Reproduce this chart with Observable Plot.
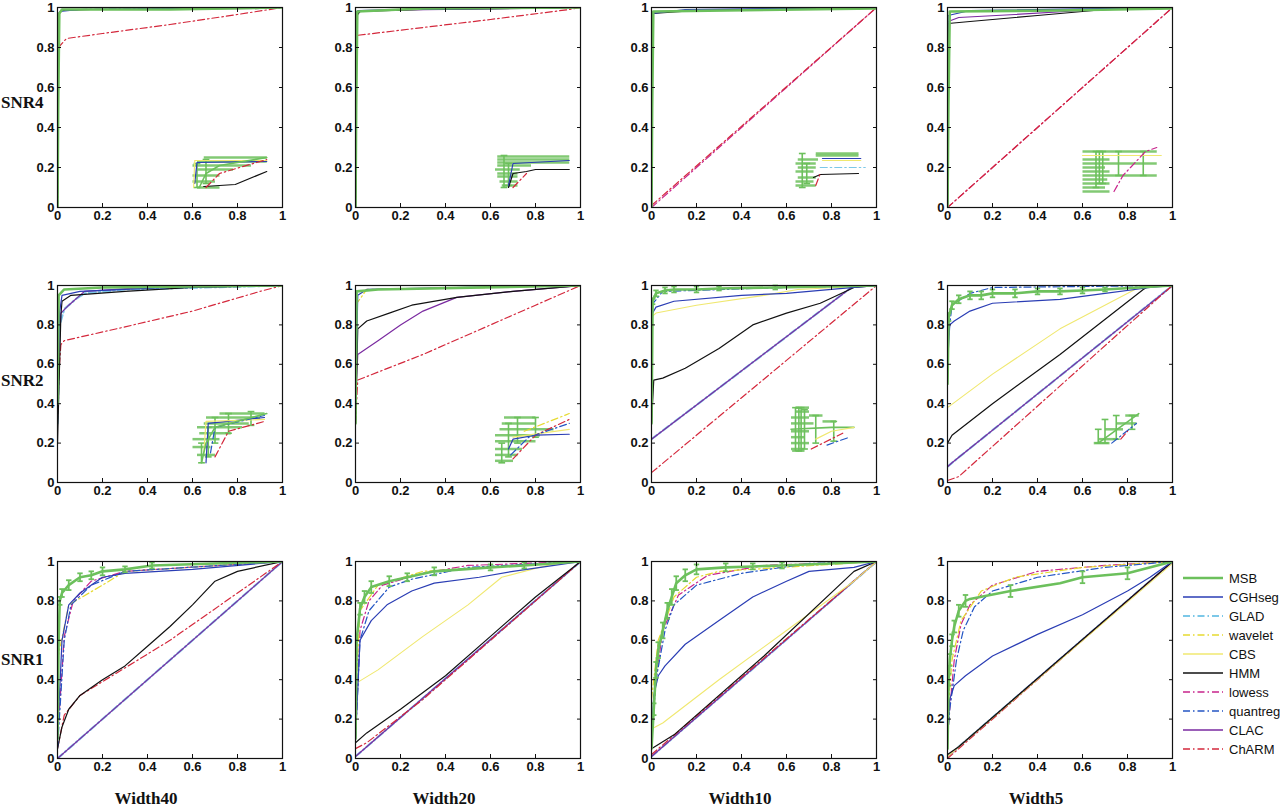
<!DOCTYPE html>
<html>
<head>
<meta charset="utf-8">
<script src="https://cdn.jsdelivr.net/npm/d3@7"></script>
<script src="https://cdn.jsdelivr.net/npm/@observablehq/plot@0.6"></script>
<style>
  body { margin: 0; background: #fff; }
  #fig { position: relative; width: 1280px; height: 808px; overflow: hidden; background: #fff; }
  .panel { position: absolute; }
  .lab { position: absolute; font-family: "Liberation Serif", "DejaVu Serif", serif; font-weight: bold; font-size: 17px; line-height: 1; color: #111; white-space: nowrap; }
  #legend { position: absolute; left: 1176px; top: 566px; }
</style>
</head>
<body>
<div id="fig"></div>
<script>
// methods and axes
const methods = ["MSB", "CGHseg", "GLAD", "wavelet", "CBS", "HMM", "lowess", "quantreg", "CLAC", "ChARM"]
const snrRows = ["SNR4", "SNR2", "SNR1"]
const widthCols = ["Width40", "Width20", "Width10", "Width5"]
const axisTicks = [0, 0.2, 0.4, 0.6, 0.8, 1]

// ROC curves: [fpr, tpr, (error for MSB)]
const snr4_w40 = {
  curves: [
    ["CGHseg", [[0, 0], [0.002, 0.9], [0.01, 0.98], [0.1, 0.99], [1, 1]]],
    ["quantreg", [[0, 0], [0.002, 0.92], [0.01, 0.985], [0.1, 0.99], [1, 1]]],
    ["HMM", [[0, 0], [0.005, 0.97], [0.02, 0.985], [0.15, 0.99], [0.9, 0.995], [1, 1]]],
    ["ChARM", [[0, 0], [0.004, 0.8], [0.04, 0.845], [0.2, 0.87], [0.5, 0.915], [0.8, 0.965], [1, 1]]],
    ["MSB", [[0, 0], [0.003, 0.5], [0.008, 0.97], [0.02, 0.99], [0.5, 0.99], [1, 1]]]
  ],
  bars: [[0.62, 0.72, 0.1], [0.6, 0.7, 0.13], [0.6, 0.72, 0.16], [0.62, 0.78, 0.19], [0.6, 0.86, 0.21], [0.62, 0.93, 0.23], [0.65, 0.93, 0.25]],
  vbars: [[0.62, 0.1, 0.22], [0.66, 0.12, 0.24]],
  lines: [
    ["HMM", [[0.65, 0.105], [0.79, 0.115], [0.93, 0.18]]],
    ["CGHseg", [[0.61, 0.12], [0.62, 0.225], [0.93, 0.23]]],
    ["CBS", [[0.605, 0.1], [0.61, 0.235], [0.93, 0.235]]],
    ["ChARM", [[0.66, 0.1], [0.72, 0.17], [0.93, 0.24]]],
    ["MSB", [[0.63, 0.1], [0.66, 0.17], [0.72, 0.21], [0.93, 0.25]]]
  ]
}

const snr4_w20 = {
  curves: [
    ["CGHseg", [[0, 0], [0.002, 0.9], [0.01, 0.985], [0.2, 0.99], [1, 1]]],
    ["CLAC", [[0, 0], [0.003, 0.95], [0.02, 0.985], [0.4, 0.99], [1, 1]]],
    ["HMM", [[0, 0], [0.004, 0.96], [0.02, 0.98], [0.3, 0.99], [1, 1]]],
    ["ChARM", [[0, 0], [0.003, 0.86], [0.3, 0.9], [0.6, 0.94], [0.95, 0.99], [1, 1]]],
    ["MSB", [[0, 0], [0.003, 0.5], [0.008, 0.98], [0.3, 0.995], [1, 1]]]
  ],
  bars: [[0.63, 0.95, 0.255], [0.63, 0.95, 0.24], [0.63, 0.95, 0.225], [0.63, 0.78, 0.21], [0.62, 0.73, 0.19], [0.63, 0.72, 0.17], [0.63, 0.72, 0.155], [0.64, 0.72, 0.13], [0.65, 0.72, 0.11]],
  vbars: [[0.66, 0.1, 0.26], [0.68, 0.11, 0.22]],
  lines: [
    ["HMM", [[0.68, 0.1], [0.7, 0.17], [0.76, 0.18], [0.8, 0.19], [0.95, 0.19]]],
    ["CGHseg", [[0.68, 0.11], [0.7, 0.22], [0.95, 0.235]]],
    ["ChARM", [[0.7, 0.1], [0.76, 0.17]]]
  ]
}

const snr4_w10 = {
  curves: [
    ["lowess", [[0, 0], [1, 1]]],
    ["ChARM", [[0, 0.01], [1, 1]]],
    ["CLAC", [[0, 0], [0.003, 0.97], [0.02, 0.98], [0.42, 0.99], [1, 1]]],
    ["HMM", [[0, 0], [0.004, 0.97], [0.2, 0.985], [1, 1]]],
    ["CGHseg", [[0, 0], [0.003, 0.97], [0.15, 0.99], [1, 1]]],
    ["MSB", [[0, 0], [0.003, 0.5], [0.008, 0.98], [1, 0.995]]]
  ],
  bars: [[0.64, 0.73, 0.11], [0.64, 0.72, 0.13], [0.65, 0.73, 0.15], [0.64, 0.72, 0.18], [0.65, 0.73, 0.2], [0.64, 0.73, 0.22], [0.65, 0.74, 0.24], [0.73, 0.92, 0.26], [0.73, 0.92, 0.27]],
  vbars: [[0.67, 0.1, 0.27], [0.69, 0.12, 0.22]],
  lines: [
    ["CBS", [[0.76, 0.235], [0.93, 0.235]]],
    ["CGHseg", [[0.76, 0.245], [0.93, 0.245]]],
    ["GLAD", [[0.75, 0.2], [0.95, 0.2]]],
    ["HMM", [[0.72, 0.15], [0.75, 0.165], [0.92, 0.17]]],
    ["ChARM", [[0.73, 0.11], [0.75, 0.17]]]
  ]
}

const snr4_w5 = {
  curves: [
    ["lowess", [[0, 0], [1, 1]]],
    ["ChARM", [[0, 0], [1, 1]]],
    ["HMM", [[0, 0], [0.003, 0.92], [0.1, 0.93], [0.4, 0.96], [0.7, 0.99], [1, 1]]],
    ["CLAC", [[0, 0], [0.003, 0.93], [0.05, 0.95], [0.3, 0.965], [0.6, 0.985], [1, 1]]],
    ["CGHseg", [[0, 0], [0.003, 0.96], [0.1, 0.985], [1, 1]]],
    ["MSB", [[0, 0], [0.004, 0.5], [0.01, 0.98], [0.5, 0.985], [1, 0.995]]]
  ],
  bars: [[0.6, 0.72, 0.08], [0.6, 0.7, 0.1], [0.6, 0.72, 0.12], [0.6, 0.71, 0.14], [0.6, 0.93, 0.16], [0.6, 0.72, 0.18], [0.6, 0.7, 0.2], [0.6, 0.93, 0.22], [0.6, 0.72, 0.24], [0.6, 0.93, 0.28]],
  vbars: [[0.66, 0.1, 0.28], [0.675, 0.12, 0.28], [0.69, 0.12, 0.28], [0.76, 0.16, 0.28], [0.87, 0.16, 0.28]],
  lines: [
    ["CBS", [[0.6, 0.26], [0.95, 0.26]]],
    ["lowess", [[0.74, 0.08], [0.78, 0.16], [0.88, 0.28], [0.93, 0.3]]]
  ]
}

const snr2_w40 = {
  curves: [
    ["GLAD", [[0, 0.3], [0.01, 0.8], [0.03, 0.88], [0.08, 0.93], [0.12, 0.96], [0.3, 0.98], [1, 1]]],
    ["CLAC", [[0, 0.5], [0.015, 0.86], [0.05, 0.9], [0.12, 0.97], [0.4, 0.99], [1, 1]]],
    ["ChARM", [[0, 0.45], [0.015, 0.7], [0.03, 0.72], [0.3, 0.79], [0.6, 0.87], [0.9, 0.97], [1, 1]]],
    ["HMM", [[0, 0.2], [0.015, 0.85], [0.02, 0.92], [0.06, 0.95], [0.3, 0.97], [0.6, 0.99], [1, 1]]],
    ["CGHseg", [[0, 0.5], [0.01, 0.87], [0.02, 0.95], [0.1, 0.97], [0.5, 0.99], [1, 1]]],
    ["MSB", [[0, 0.4], [0.005, 0.95], [0.03, 0.98], [0.2, 0.99], [1, 1]]]
  ],
  bars: [[0.62, 0.7, 0.14], [0.6, 0.68, 0.18], [0.6, 0.72, 0.22], [0.63, 0.77, 0.25], [0.62, 0.82, 0.28], [0.65, 0.85, 0.3], [0.66, 0.9, 0.33], [0.72, 0.92, 0.35]],
  vbars: [[0.64, 0.1, 0.2], [0.67, 0.13, 0.28], [0.7, 0.2, 0.33], [0.76, 0.25, 0.35], [0.86, 0.29, 0.36]],
  lines: [
    ["CGHseg", [[0.66, 0.1], [0.67, 0.3], [0.92, 0.33]]],
    ["CBS", [[0.65, 0.15], [0.66, 0.31], [0.92, 0.32]]],
    ["quantreg", [[0.68, 0.15], [0.7, 0.28], [0.92, 0.34]]],
    ["ChARM", [[0.7, 0.13], [0.76, 0.26], [0.92, 0.31]]],
    ["MSB", [[0.64, 0.1], [0.66, 0.2], [0.7, 0.28], [0.93, 0.35]]]
  ]
}

const snr2_w20 = {
  curves: [
    ["ChARM", [[0, 0.3], [0.01, 0.52], [0.3, 0.65], [0.6, 0.8], [0.8, 0.9], [1, 1]]],
    ["CLAC", [[0, 0.4], [0.01, 0.65], [0.1, 0.72], [0.2, 0.8], [0.3, 0.87], [0.45, 0.94], [0.7, 0.97], [1, 1]]],
    ["HMM", [[0, 0.3], [0.01, 0.78], [0.05, 0.82], [0.15, 0.86], [0.25, 0.9], [0.45, 0.94], [0.7, 0.97], [1, 1]]],
    ["wavelet", [[0, 0.9], [0.05, 0.98], [0.6, 0.99], [1, 1]]],
    ["CGHseg", [[0, 0.4], [0.01, 0.95], [0.05, 0.98], [0.5, 0.99], [1, 1]]],
    ["MSB", [[0, 0.3], [0.005, 0.97], [0.1, 0.98], [1, 1]]]
  ],
  bars: [[0.62, 0.7, 0.11], [0.62, 0.72, 0.14], [0.62, 0.74, 0.17], [0.62, 0.8, 0.21], [0.62, 0.82, 0.24], [0.64, 0.88, 0.27], [0.65, 0.8, 0.3], [0.66, 0.8, 0.33]],
  vbars: [[0.65, 0.1, 0.2], [0.68, 0.13, 0.3], [0.72, 0.2, 0.33], [0.8, 0.23, 0.33]],
  lines: [
    ["wavelet", [[0.75, 0.26], [0.95, 0.35]]],
    ["CGHseg", [[0.68, 0.17], [0.7, 0.22], [0.8, 0.24], [0.95, 0.245]]],
    ["CBS", [[0.7, 0.23], [0.95, 0.27]]],
    ["ChARM", [[0.7, 0.12], [0.8, 0.24], [0.95, 0.32]]],
    ["quantreg", [[0.69, 0.14], [0.77, 0.23], [0.95, 0.3]]]
  ]
}

const snr2_w10 = {
  curves: [
    ["GLAD", [[0, 0.22], [0.9, 1], [1, 1]]],
    ["CLAC", [[0, 0.22], [0.9, 1], [1, 1]]],
    ["ChARM", [[0, 0.05], [1, 1]]],
    ["HMM", [[0, 0.3], [0.01, 0.52], [0.05, 0.53], [0.15, 0.58], [0.3, 0.68], [0.45, 0.8], [0.6, 0.86], [0.75, 0.91], [0.9, 0.99], [1, 1]]],
    ["CBS", [[0, 0.84], [0.02, 0.86], [0.2, 0.9], [0.5, 0.95], [0.65, 0.98], [1, 1]]],
    ["quantreg", [[0, 0.9], [0.05, 0.97], [0.6, 0.99], [1, 1]]],
    ["CGHseg", [[0, 0.85], [0.02, 0.89], [0.1, 0.92], [0.4, 0.95], [0.6, 0.96], [0.9, 0.99], [1, 1]]],
    ["MSB", [[0, 0.3], [0.005, 0.92, 0.015], [0.02, 0.96, 0.015], [0.06, 0.975, 0.015], [0.1, 0.98, 0.015], [0.2, 0.98, 0.015], [0.3, 0.985, 0.01], [0.55, 0.99, 0.01], [1, 1]]]
  ],
  bars: [[0.62, 0.68, 0.17], [0.62, 0.7, 0.2], [0.62, 0.68, 0.23], [0.62, 0.7, 0.26], [0.62, 0.72, 0.3], [0.62, 0.7, 0.33], [0.64, 0.7, 0.36], [0.64, 0.7, 0.38], [0.7, 0.76, 0.34], [0.76, 0.82, 0.31]],
  vbars: [[0.64, 0.16, 0.38], [0.655, 0.16, 0.38], [0.665, 0.16, 0.38], [0.68, 0.17, 0.37], [0.73, 0.2, 0.34], [0.81, 0.21, 0.31]],
  lines: [
    ["MSB", [[0.62, 0.27], [0.8, 0.28], [0.9, 0.28]]],
    ["CBS", [[0.73, 0.22], [0.8, 0.26], [0.9, 0.28]]],
    ["ChARM", [[0.71, 0.17], [0.85, 0.25]]],
    ["quantreg", [[0.78, 0.19], [0.88, 0.23]]]
  ]
}

const snr2_w5 = {
  curves: [
    ["GLAD", [[0, 0.08], [0.02, 0.1], [1, 1]]],
    ["CLAC", [[0, 0.08], [0.02, 0.1], [1, 1]]],
    ["ChARM", [[0, 0.01], [0.05, 0.03], [0.95, 0.95], [1, 1]]],
    ["HMM", [[0, 0.2], [0.02, 0.24], [0.2, 0.4], [0.5, 0.65], [0.87, 0.98], [0.9, 1], [1, 1]]],
    ["CBS", [[0, 0.38], [0.2, 0.55], [0.5, 0.78], [0.85, 0.99], [1, 1]]],
    ["quantreg", [[0, 0.7], [0.02, 0.9], [0.1, 0.96], [0.2, 0.99], [1, 1]]],
    ["CGHseg", [[0, 0.6], [0.01, 0.8], [0.03, 0.82], [0.1, 0.87], [0.2, 0.91], [0.5, 0.93], [0.7, 0.96], [0.9, 0.99], [1, 1]]],
    ["MSB", [[0, 0.5], [0.005, 0.84, 0.02], [0.02, 0.9, 0.02], [0.05, 0.93, 0.02], [0.1, 0.95, 0.02], [0.15, 0.95, 0.02], [0.2, 0.96, 0.02], [0.3, 0.96, 0.02], [0.4, 0.97, 0.015], [0.5, 0.97, 0.015], [0.6, 0.975, 0.015], [0.7, 0.98, 0.01], [1, 1]]]
  ],
  bars: [[0.65, 0.72, 0.2], [0.67, 0.75, 0.22], [0.7, 0.78, 0.27], [0.75, 0.84, 0.3], [0.79, 0.85, 0.34]],
  vbars: [[0.67, 0.2, 0.27], [0.7, 0.2, 0.32], [0.75, 0.22, 0.34], [0.82, 0.27, 0.34]],
  lines: [
    ["MSB", [[0.67, 0.2], [0.85, 0.35]]],
    ["quantreg", [[0.73, 0.2], [0.84, 0.3]]],
    ["ChARM", [[0.77, 0.22], [0.8, 0.26]]]
  ]
}

const snr1_w40 = {
  curves: [
    ["GLAD", [[0, 0], [1, 1]]],
    ["CLAC", [[0, 0], [1, 1]]],
    ["ChARM", [[0, 0.05], [0.03, 0.22], [0.1, 0.32], [0.5, 0.6], [1, 1]]],
    ["HMM", [[0, 0.05], [0.02, 0.16], [0.05, 0.25], [0.1, 0.32], [0.2, 0.4], [0.3, 0.47], [0.4, 0.57], [0.5, 0.67], [0.6, 0.78], [0.7, 0.9], [0.8, 0.95], [1, 1]]],
    ["wavelet", [[0, 0.5], [0.05, 0.78], [0.2, 0.88], [0.3, 0.95], [1, 1]]],
    ["lowess", [[0, 0.1], [0.03, 0.62], [0.07, 0.8], [0.15, 0.9], [0.3, 0.95], [1, 1]]],
    ["quantreg", [[0, 0.05], [0.03, 0.6], [0.06, 0.78], [0.15, 0.88], [0.3, 0.95], [1, 1]]],
    ["CGHseg", [[0, 0.1], [0.02, 0.6], [0.05, 0.78], [0.1, 0.84], [0.2, 0.92], [0.3, 0.94], [0.6, 0.96], [0.9, 0.99], [1, 1]]],
    ["MSB", [[0, 0.1], [0.005, 0.6], [0.01, 0.8, 0.02], [0.02, 0.84, 0.02], [0.05, 0.88, 0.025], [0.1, 0.92, 0.02], [0.15, 0.93, 0.02], [0.2, 0.95, 0.02], [0.3, 0.96, 0.015], [0.42, 0.98, 0.015], [0.7, 0.99], [1, 1]]]
  ],
  bars: [], vbars: [], lines: []
}

const snr1_w20 = {
  curves: [
    ["GLAD", [[0, 0.01], [1, 1]]],
    ["CLAC", [[0, 0.01], [1, 1]]],
    ["ChARM", [[0, 0.05], [0.05, 0.08], [0.3, 0.3], [0.6, 0.6], [1, 1]]],
    ["HMM", [[0, 0.08], [0.05, 0.13], [0.2, 0.25], [0.4, 0.42], [0.6, 0.62], [0.8, 0.82], [1, 1]]],
    ["CBS", [[0, 0.38], [0.1, 0.45], [0.3, 0.62], [0.5, 0.78], [0.65, 0.92], [0.85, 0.98], [1, 1]]],
    ["wavelet", [[0, 0.3], [0.02, 0.75], [0.1, 0.88], [0.3, 0.95], [1, 1]]],
    ["lowess", [[0, 0.1], [0.02, 0.65], [0.06, 0.8], [0.12, 0.88], [0.3, 0.94], [0.5, 0.98], [1, 1]]],
    ["quantreg", [[0, 0.1], [0.02, 0.6], [0.06, 0.75], [0.15, 0.87], [0.25, 0.91], [0.5, 0.97], [1, 1]]],
    ["CGHseg", [[0, 0.1], [0.02, 0.6], [0.07, 0.7], [0.14, 0.78], [0.25, 0.85], [0.35, 0.89], [0.55, 0.92], [0.7, 0.95], [1, 1]]],
    ["MSB", [[0, 0.1], [0.005, 0.6], [0.02, 0.76, 0.03], [0.04, 0.82, 0.03], [0.07, 0.87, 0.03], [0.15, 0.9, 0.025], [0.23, 0.92, 0.02], [0.35, 0.95, 0.02], [0.6, 0.97, 0.015], [0.75, 0.98, 0.015], [1, 1]]]
  ],
  bars: [], vbars: [], lines: []
}

const snr1_w10 = {
  curves: [
    ["GLAD", [[0, 0.01], [1, 1]]],
    ["CLAC", [[0, 0.01], [1, 1]]],
    ["ChARM", [[0, 0.02], [1, 1]]],
    ["HMM", [[0, 0.05], [0.1, 0.12], [0.5, 0.52], [0.9, 0.95], [1, 1]]],
    ["CBS", [[0, 0.15], [0.05, 0.18], [0.3, 0.4], [0.6, 0.65], [0.9, 0.9], [1, 1]]],
    ["wavelet", [[0, 0.3], [0.03, 0.6], [0.1, 0.82], [0.2, 0.92], [0.3, 0.95], [1, 1]]],
    ["lowess", [[0, 0.1], [0.02, 0.4], [0.05, 0.65], [0.12, 0.83], [0.25, 0.93], [0.5, 0.98], [1, 1]]],
    ["quantreg", [[0, 0.1], [0.02, 0.4], [0.06, 0.65], [0.1, 0.78], [0.2, 0.88], [0.4, 0.94], [0.7, 0.99], [1, 1]]],
    ["CGHseg", [[0, 0.1], [0.01, 0.32], [0.03, 0.42], [0.06, 0.47], [0.15, 0.58], [0.3, 0.7], [0.45, 0.82], [0.6, 0.9], [0.7, 0.95], [0.9, 0.97], [1, 1]]],
    ["MSB", [[0, 0.05], [0.01, 0.25, 0.03], [0.02, 0.45, 0.04], [0.03, 0.55, 0.04], [0.05, 0.65, 0.04], [0.07, 0.75, 0.04], [0.09, 0.82, 0.04], [0.11, 0.89, 0.035], [0.15, 0.93, 0.03], [0.2, 0.96, 0.025], [0.33, 0.97, 0.02], [0.45, 0.975, 0.015], [0.58, 0.98, 0.015], [0.8, 0.99], [1, 1]]]
  ],
  bars: [], vbars: [], lines: []
}

const snr1_w5 = {
  curves: [
    ["GLAD", [[0, 0.01], [1, 1]]],
    ["CLAC", [[0, 0.01], [1, 1]]],
    ["ChARM", [[0, 0], [1, 1]]],
    ["CBS", [[0, 0.01], [1, 0.99]]],
    ["HMM", [[0, 0.02], [0.05, 0.06], [1, 1]]],
    ["wavelet", [[0, 0.2], [0.02, 0.5], [0.06, 0.7], [0.15, 0.85], [0.3, 0.92], [0.6, 0.97], [1, 1]]],
    ["lowess", [[0, 0.1], [0.01, 0.25], [0.03, 0.5], [0.06, 0.68], [0.1, 0.78], [0.2, 0.88], [0.4, 0.95], [0.7, 0.98], [1, 1]]],
    ["quantreg", [[0, 0.1], [0.01, 0.25], [0.04, 0.5], [0.07, 0.65], [0.12, 0.77], [0.2, 0.85], [0.4, 0.92], [0.7, 0.97], [1, 1]]],
    ["CGHseg", [[0, 0.1], [0.01, 0.3], [0.03, 0.37], [0.08, 0.42], [0.2, 0.52], [0.4, 0.63], [0.6, 0.73], [0.8, 0.85], [0.9, 0.92], [1, 1]]],
    ["MSB", [[0, 0.05], [0.005, 0.4, 0.03], [0.01, 0.5, 0.03], [0.02, 0.6, 0.03], [0.03, 0.67, 0.03], [0.05, 0.75, 0.03], [0.08, 0.8, 0.03], [0.1, 0.81], [0.28, 0.85, 0.03], [0.5, 0.89], [0.6, 0.92, 0.03], [0.8, 0.94, 0.03], [1, 1]]]
  ],
  bars: [], vbars: [], lines: []
}

const panelRows = [
  [snr4_w40, snr4_w20, snr4_w10, snr4_w5],
  [snr2_w40, snr2_w20, snr2_w10, snr2_w5],
  [snr1_w40, snr1_w20, snr1_w10, snr1_w5]
]

// estilos
const colors = {
  MSB: "#6cc05c", CGHseg: "#2a3db4", GLAD: "#7cc8e8", wavelet: "#e6da30", CBS: "#f0e870",
  HMM: "#111111", lowess: "#c8248c", quantreg: "#2456c4", CLAC: "#7a2aa0", ChARM: "#d4283c"
}
const dashdot = "7,3,1.5,3"
const dashes = { GLAD: dashdot, wavelet: dashdot, lowess: dashdot, quantreg: dashdot, ChARM: dashdot }
const widths = { MSB: 2.6, GLAD: 2.2, CBS: 1.1 }
const drawOrder = ["GLAD", "CLAC", "lowess", "ChARM", "CBS", "wavelet", "HMM", "quantreg", "CGHseg", "MSB"]

const colLeft = [57, 355, 651, 947]
const rowTop = [7, 285, 561]
const rowH = [200, 197, 197]
const plotW = 225
const ml = 34, mr = 8, mt = 8, mb = 24

const fig = d3.select('#fig')
const fmt = d => String(+d.toFixed(1))
const green = colors.MSB

function lineOpts(m) {
  return {
    x: d => d[0], y: d => d[1], stroke: colors[m],
    strokeWidth: widths[m] ?? 1.2, strokeDasharray: dashes[m], clip: true
  }
}

function panel(spec, left, top, h) {
  const marks = []

  // inset (zoomed error bars)
  marks.push(Plot.link(spec.bars, { x1: d => d[0], x2: d => d[1], y1: d => d[2], y2: d => d[2], stroke: green, strokeWidth: 2.5, strokeOpacity: 0.85 }))
  marks.push(Plot.link(spec.vbars, { x1: d => d[0], x2: d => d[0], y1: d => d[1], y2: d => d[2], stroke: green, strokeWidth: 1.6 }))
  marks.push(Plot.link(spec.vbars.flatMap(d => [[d[0], d[1]], [d[0], d[2]]]), { x1: d => d[0] - 0.015, x2: d => d[0] + 0.015, y1: d => d[1], y2: d => d[1], stroke: green, strokeWidth: 1.6 }))
  for (const [m, pts] of spec.lines) marks.push(Plot.line(pts, { ...lineOpts(m), strokeWidth: m === "MSB" ? 1.6 : 1.2 }))

  // main ROC curves
  const sorted = spec.curves.slice().sort((a, b) => drawOrder.indexOf(a[0]) - drawOrder.indexOf(b[0]))
  for (const [m, pts] of sorted) {
    marks.push(Plot.line(pts, lineOpts(m)))
    if (m === "MSB") {
      const err = pts.filter(d => d[2])
      marks.push(Plot.link(err, { x1: d => d[0], x2: d => d[0], y1: d => d[1] - d[2], y2: d => Math.min(1, d[1] + d[2]), stroke: green, strokeWidth: 1.8 }))
      const caps = err.flatMap(d => [[d[0], d[1] - d[2]], [d[0], Math.min(1, d[1] + d[2])]])
      marks.push(Plot.link(caps, { x1: d => Math.max(0, d[0] - 0.012), x2: d => d[0] + 0.012, y1: d => d[1], y2: d => d[1], stroke: green, strokeWidth: 1.8 }))
    }
  }

  marks.push(Plot.frame({ stroke: "#111", strokeWidth: 1.2 }))
  marks.push(Plot.axisX({ ticks: axisTicks, anchor: "bottom", tickSize: -4, tickPadding: 7, tickFormat: fmt, label: null }))
  marks.push(Plot.axisX({ ticks: axisTicks, anchor: "top", tickSize: -4, tickFormat: () => "", label: null }))
  marks.push(Plot.axisY({ ticks: axisTicks, anchor: "left", tickSize: -4, tickPadding: 7, tickFormat: fmt, label: null }))
  marks.push(Plot.axisY({ ticks: axisTicks, anchor: "right", tickSize: -4, tickFormat: () => "", label: null }))

  const chart = Plot.plot({
    width: plotW + ml + mr,
    height: h + mt + mb,
    marginLeft: ml, marginRight: mr, marginTop: mt, marginBottom: mb,
    x: { domain: [0, 1] },
    y: { domain: [0, 1] },
    style: { fontFamily: '"Liberation Sans", Arial, sans-serif', fontSize: "13px", fontWeight: "bold", color: "#111", background: "transparent", overflow: "visible" },
    marks
  })
  fig.append('div').attr('class', 'panel')
    .style('left', (left - ml) + 'px').style('top', (top - mt) + 'px')
    .append(() => chart)
}

panelRows.forEach((row, r) => row.forEach((spec, c) => panel(spec, colLeft[c], rowTop[r], rowH[r])))

// row and column labels
const rowLabY = [102, 380, 659]
snrRows.forEach((t, r) => {
  fig.append('div').attr('class', 'lab').text(t)
    .style('left', '1px').style('top', (rowLabY[r] - 8) + 'px')
})
widthCols.forEach((t, c) => {
  fig.append('div').attr('class', 'lab').text(t)
    .style('left', (colLeft[c] + 89) + 'px').style('top', '790px')
    .style('transform', 'translateX(-50%)')
})

// legend
const leg = fig.append('svg').attr('id', 'legend').attr('width', 104).attr('height', 196)
methods.forEach((m, i) => {
  const y = 12 + i * 19
  leg.append('line').attr('x1', 7).attr('x2', 47).attr('y1', y).attr('y2', y)
    .attr('stroke', colors[m]).attr('stroke-width', m === "MSB" ? 2.4 : (m === "GLAD" ? 2 : 1.4))
    .attr('stroke-dasharray', dashes[m] ?? null)
  leg.append('text').attr('x', 53).attr('y', y).attr('dy', '0.35em')
    .attr('font-family', '"Liberation Sans", Arial, sans-serif').attr('font-size', 13)
    .attr('fill', '#111').text(m)
})
</script>
</body>
</html>
